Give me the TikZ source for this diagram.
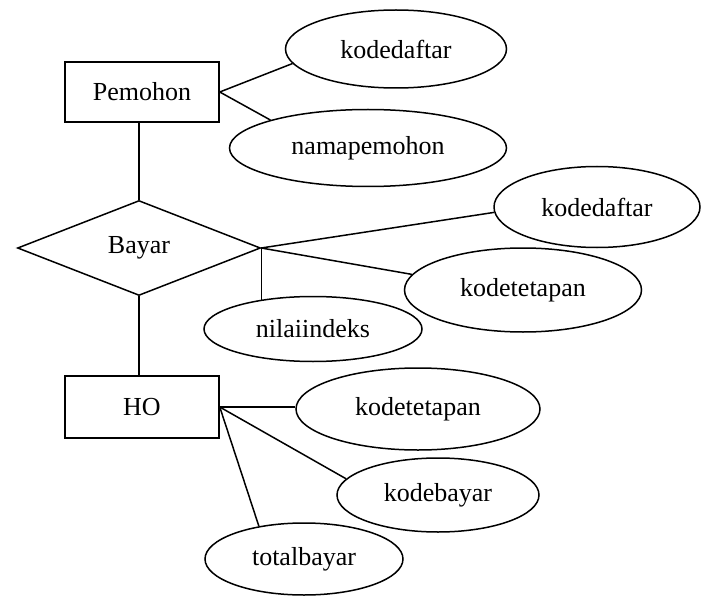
\documentclass[tikz,border=0pt]{standalone}
\usepackage{fontspec}
\setmainfont{Liberation Serif}
\usetikzlibrary{positioning, shapes.geometric, calc}

\begin{document}
\begin{tikzpicture}[x=1pt, y=-1pt]
                        \tikzset{
                            entity/.style={
                                    rectangle, draw=black, line width=1.5pt, fill=white,
                                    minimum width=154pt, inner sep=0pt, font=\fontsize{26}{30}\selectfont
                                },
                            relation/.style={
                                    diamond, draw=black, line width=1.5pt, fill=white,
                                    minimum width=243pt, minimum height=95pt, inner sep=0pt,
                                    font=\fontsize{26}{30}\selectfont
                                },
                            attr/.style={
                                    ellipse, draw=black, line width=1.5pt, fill=white,
                                    inner sep=0pt, font=\fontsize{26}{30}\selectfont
                                },
                            link/.style={line width=1.5pt, color=black}
                        }

                        \useasboundingbox (0, 0) rectangle (701, 596);

                        % Entities and relation
                        \node[entity, minimum height=60pt] (pemohon) at (142, 92) {Pemohon};
                        \node[relation] (bayar) at (139, 248) {Bayar};
                        \node[entity, minimum height=62pt] (ho) at (142, 407) {HO};

                        % Attributes
                        \node[attr, minimum width=221pt, minimum height=78pt] (kdaftarA) at (396, 49) {kodedaftar};
                        \node[attr, minimum width=277pt, minimum height=77pt] (namapemohon) at (368, 148) {namapemohon};
                        \node[attr, minimum width=206pt, minimum height=81pt] (kdaftarB) at (597, 207) {kodedaftar};
                        \node[attr, minimum width=237pt, minimum height=84pt] (ktetapA) at (523, 290) {kodetetapan};
                        \node[attr, minimum width=218pt, minimum height=65pt] (nilaiindeks) at (313, 329) {nilaiindeks};
                        \node[attr, minimum width=244pt, minimum height=82pt] (ktetapB) at (418, 409) {kodetetapan};
                        \node[attr, minimum width=202pt, minimum height=74pt] (kodebayar) at (438, 495) {kodebayar};
                        \node[attr, minimum width=198pt, minimum height=72pt] (totalbayar) at (304, 559) {totalbayar};

                        % Connectors
                        \draw[link] (pemohon.east) -- (kdaftarA.188);
                        \draw[link] (pemohon.east) -- (namapemohon.164);
                        \draw[link] (bayar.north) -- (bayar.north |- pemohon.south);
                        \draw[link] (bayar.east) -- (kdaftarB.183);
                        \draw[link] (bayar.east) -- (ktetapA.172);
                        \draw[link] (bayar.east) -- (bayar.east |- nilaiindeks.152);
                        \draw[link] (bayar.south) -- (bayar.south |- ho.north);
                        \draw[link] (ho.east) -- (ho.east -| ktetapB.west);
                        \draw[link] (ho.east) -- (kodebayar.170);
                        \draw[link] (ho.east) -- (totalbayar.144);
                    \end{tikzpicture}
\end{document}
